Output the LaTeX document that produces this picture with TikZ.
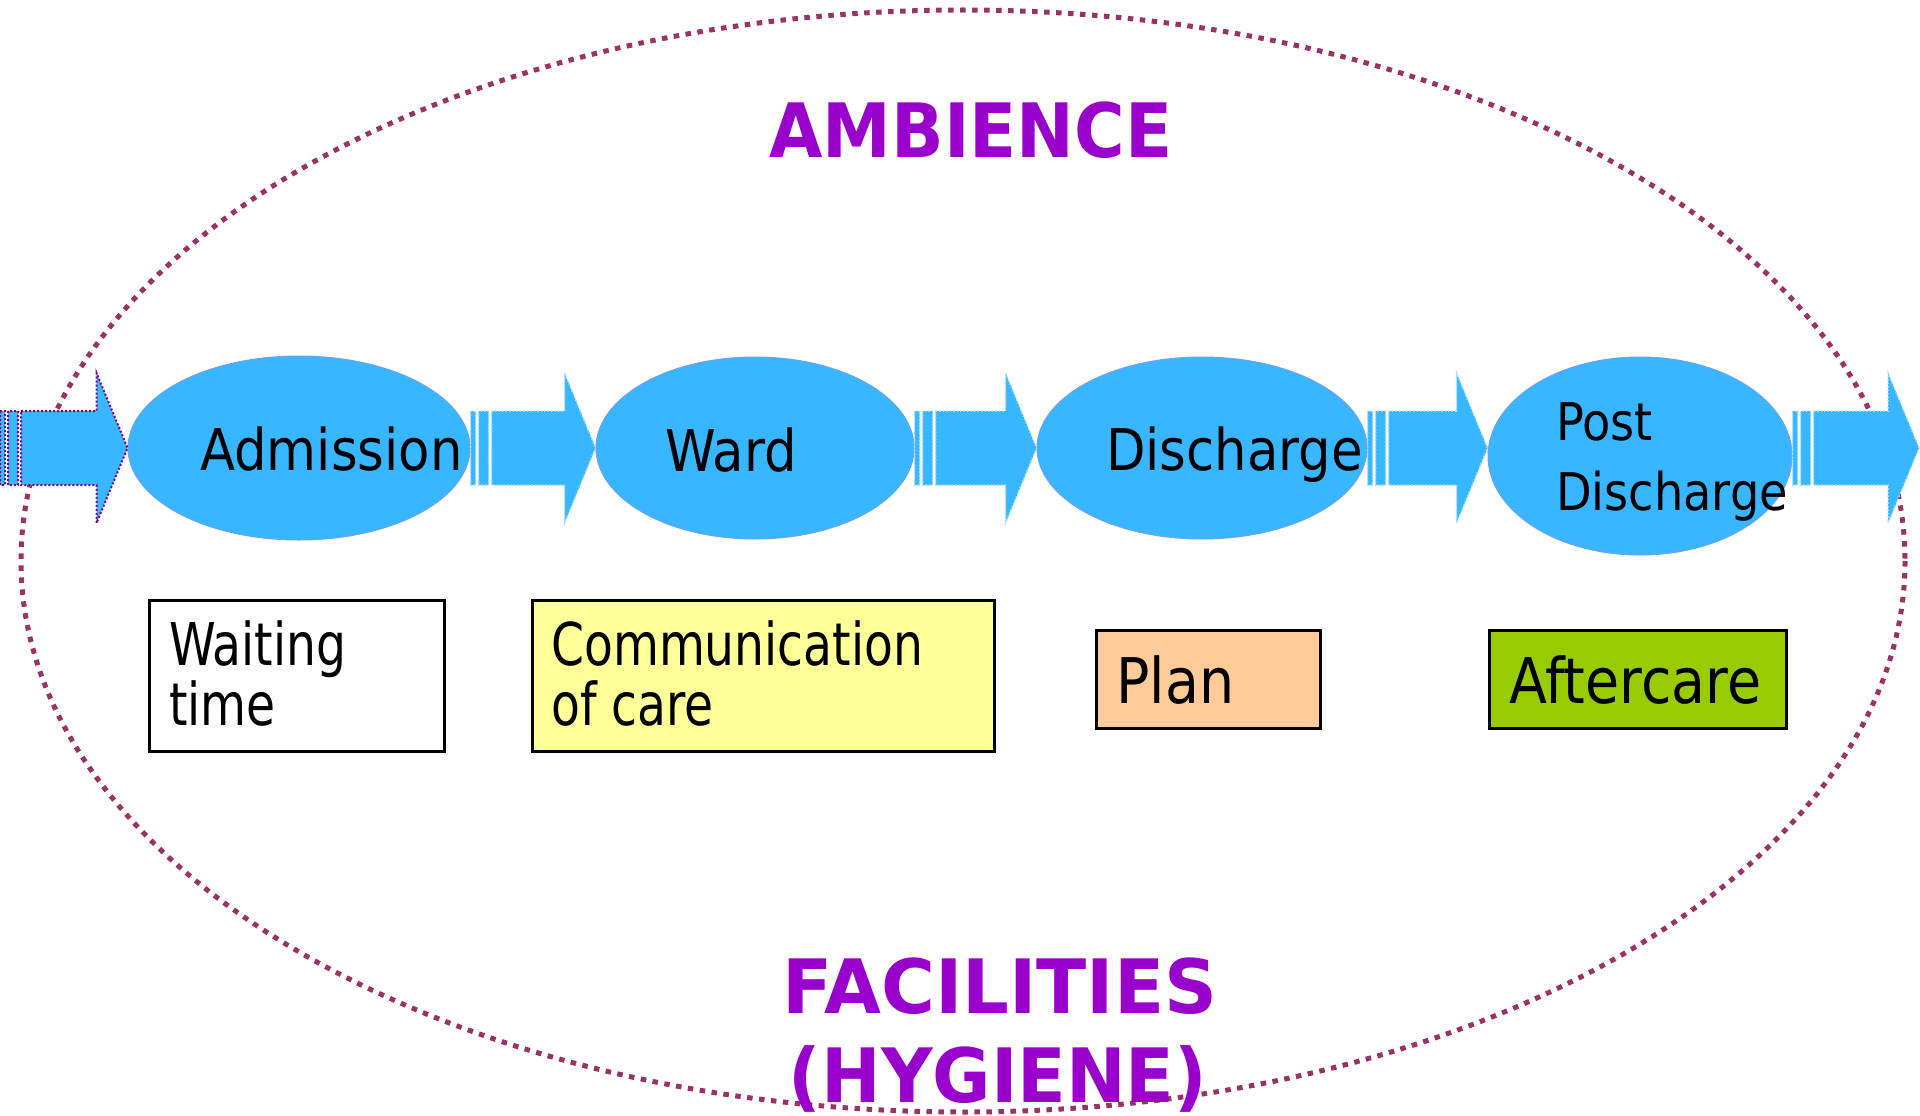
\documentclass[tikz,border=0pt]{standalone}
\usepackage{fontspec}
\setmainfont{DejaVu Sans}
\newfontfamily\ovalfont{DejaVu Sans}[FakeStretch=0.89]
\newfontfamily\boxfont{DejaVu Sans}[FakeStretch=0.8]
\newfontfamily\bigboxfont{DejaVu Sans}[FakeStretch=0.88]
\newfontfamily\headfont{DejaVu Sans}[FakeStretch=0.95]
\newfontfamily\topheadfont{DejaVu Sans}[FakeStretch=0.92]
\newfontfamily\wideheadfont{DejaVu Sans}[FakeStretch=0.98]
\usetikzlibrary{shapes.geometric, calc}

\definecolor{stageblue}{RGB}{56,182,255}
\definecolor{stageedge}{RGB}{110,160,255}
\definecolor{rimcolor}{RGB}{153,51,102}
\definecolor{headviolet}{RGB}{153,0,204}
\definecolor{careyellow}{RGB}{255,255,153}
\definecolor{planorange}{RGB}{255,204,153}
\definecolor{aftergreen}{RGB}{153,204,0}
\definecolor{tailpurple}{RGB}{128,0,128}

\begin{document}
\begin{tikzpicture}[x=1pt, y=-1pt,
    stage/.style={ellipse, fill=stageblue, draw=stageedge, line width=1},
    tag/.style={rectangle, draw=black, line width=3},
    flowarrow/.style={fill=stageblue, draw=white!55!stageblue, line width=1.5, dotted},
    tailarrow/.style={fill=stageblue, draw=tailpurple, line width=2, dotted},
    heading/.style={anchor=base, text=headviolet, font=\headfont\bfseries\fontsize{75}{80}\selectfont},
    stagetext/.style={anchor=base west, font=\ovalfont\fontsize{57.6}{70}\selectfont},
    tagtext/.style={anchor=base west, font=\boxfont\fontsize{59}{60}\selectfont},
    bigtagtext/.style={anchor=base west, font=\bigboxfont\fontsize{63}{66}\selectfont}]
    \tikzstyle{every node}+=[inner sep=0pt]
    \useasboundingbox (0,0) rectangle (1920,1116);

    % outer dotted rim
    \draw [rimcolor, line width=5, dash pattern=on 5.5 off 6.5] (963,561) ellipse [x radius=942, y radius=551];

    % stages
    \node [stage, minimum width=342, minimum height=184] (adm) at (299,448) {};
    \node [stage, minimum width=318, minimum height=182] (ward) at (755,448) {};
    \node [stage, minimum width=330, minimum height=182] (dis) at (1202,448) {};
    \node [stage, minimum width=304, minimum height=198] (post) at (1640,456) {};

    % striped arrows between the stages
    \coordinate (flow) at (0,448);
    \coordinate (tailin) at (0,448);
    \coordinate (tailout) at (1919,448);
    \foreach \from/\to/\look in {tailin/adm.west/tailarrow, adm.east/ward.west/flowarrow,
        ward.east/dis.west/flowarrow, dis.east/post.west/flowarrow, post.east/tailout/flowarrow}
      \path [\look] let \p1=(\from), \p2=(\to), \p3=(flow) in
        (\x1,\y3+37pt) rectangle (\x1+5pt,\y3-37pt)
        (\x1+8pt,\y3+37pt) rectangle (\x1+18pt,\y3-37pt)
        (\x1+21pt,\y3+37pt) -- (\x2-31pt,\y3+37pt) -- (\x2-31pt,\y3+75pt) -- (\x2,\y3)
        -- (\x2-31pt,\y3-75pt) -- (\x2-31pt,\y3-37pt) -- (\x1+21pt,\y3-37pt) -- cycle;

    \node [stagetext] (admtxt) at (200,470) {Admission};
    \node [stagetext] (wardtxt) at (665,471) {Ward};
    \node [stagetext] (distxt) at (1106,470) {Discharge};
    \node [stagetext, font=\ovalfont\fontsize{52}{60}\selectfont] (posttxt) at (1556,440) {Post};
    \node [stagetext, font=\ovalfont\fontsize{52}{60}\selectfont] (postdistxt) at (1556,510) {Discharge};

    % what each stage is judged on
    \node [tag, minimum width=295, minimum height=151] (waitbox) at (297,676) {};
    \node [tag, fill=careyellow, minimum width=462, minimum height=151] (carebox) at (763.5,676) {};
    \node [tag, fill=planorange, minimum width=224, minimum height=98] (planbox) at (1208.5,679.5) {};
    \node [tag, fill=aftergreen, minimum width=297, minimum height=98] (afterbox) at (1638,679.5) {};
    \node [tagtext] (waittxt) at (169,665) {Waiting};
    \node [tagtext] (timetxt) at (169,725) {time};
    \node [tagtext] (commtxt) at (551,665) {Communication};
    \node [tagtext] (ofcaretxt) at (551,725) {of care};
    \node [bigtagtext] (plantxt) at (1116,703) {Plan};
    \node [bigtagtext] (aftertxt) at (1509,703) {Aftercare};

    \node [heading, font=\topheadfont\bfseries\fontsize{75}{80}\selectfont] (ambience) at (971,157) {AMBIENCE};
    \node [heading, font=\wideheadfont\bfseries\fontsize{75}{80}\selectfont] (facilities) at (1000,1013) {FACILITIES};
    \node [heading] (hygiene) at (998,1102) {(HYGIENE)};
\end{tikzpicture}
\end{document}
